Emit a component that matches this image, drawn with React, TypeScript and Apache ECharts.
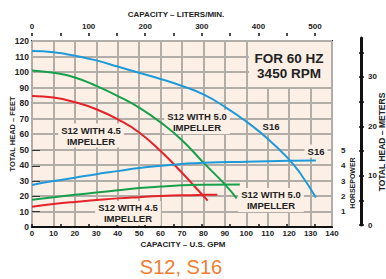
import React, { useEffect, useRef } from "react";
import * as echarts from "echarts";

// ---- data (US GPM vs total head in feet / horsepower) ----
const s16HeadGpm = [0, 10, 20, 30, 40, 50, 60, 70, 80, 90, 100, 110, 120, 125, 132.5];
const s16HeadFt = [113.5, 112.7, 110.5, 107.5, 103.5, 99.5, 95.5, 91, 85.5, 77.5, 68, 57, 43.5, 35, 19];

const s12_50HeadGpm = [0, 10, 20, 30, 40, 50, 60, 70, 80, 90, 95.5];
const s12_50HeadFt = [101, 99.5, 96.5, 91, 84.5, 77, 67.5, 56, 41.5, 27.5, 18.5];

const s12_45HeadGpm = [0, 10, 20, 30, 40, 50, 60, 70, 76, 82];
const s12_45HeadFt = [84.5, 83.5, 80.5, 76, 69.5, 61, 49, 35, 26, 17];

const s16HpGpm = [0, 10, 20, 30, 40, 50, 60, 70, 80, 100, 120, 132.5];
const s16Hp = [2.75, 3.0, 3.22, 3.45, 3.65, 3.85, 4.0, 4.12, 4.2, 4.27, 4.32, 4.34];

const s12_50HpGpm = [0, 10, 20, 30, 40, 50, 60, 70, 80, 97];
const s12_50Hp = [1.78, 1.95, 2.1, 2.25, 2.4, 2.54, 2.64, 2.72, 2.76, 2.78];

const s12_45HpGpm = [0, 10, 20, 30, 40, 50, 60, 70, 80, 86.5];
const s12_45Hp = [1.33, 1.5, 1.64, 1.76, 1.87, 1.95, 2.02, 2.07, 2.1, 2.11];

const literTicks = [0, 50, 100, 150, 200, 250, 300, 350, 400, 450, 500];
const literLabels = [0, 100, 200, 300, 400, 500];
const hpTicks = [1, 2, 3, 4, 5];
const meterTicks = [0, 5, 10, 15, 20, 25, 30, 35];
const meterLabels = [0, 10, 20, 30];

const GAL_TO_L = 3.78541;

const BLUE = "#1f9ad8";
const GREEN = "#17a04b";
const RED = "#e52228";
const PEACH = "#fcf0e6";
const GRIDC = "#b3ada8";
const INK = "#222";
const FONT = "'Liberation Sans', Arial, Helvetica, sans-serif";

const zip = (xs: number[], ys: number[]) => xs.map((x, i) => [x, ys[i]]);

function lineSeries(name: string, xs: number[], ys: number[], color: string, yAxisIndex: number) {
  return {
    name,
    type: "line",
    xAxisIndex: 0,
    yAxisIndex,
    data: zip(xs, ys),
    smooth: 0.5,
    showSymbol: false,
    symbol: "none",
    lineStyle: { color, width: 2 },
    z: 3,
  };
}

function label(text: string, x: number, y: number, size = 9.5, lh = 11, bg = true) {
  return {
    type: "text",
    x,
    y,
    z: 2,
    style: {
      text,
      font: `bold ${size}px ${FONT}`,
      fontSize: size,
      fontWeight: "bold",
      fontFamily: FONT,
      fill: INK,
      textAlign: "center",
      textVerticalAlign: "middle",
      align: "center",
      verticalAlign: "middle",
      lineHeight: lh,
      backgroundColor: bg ? PEACH : undefined,
      padding: bg ? [1, 3, 1, 3] : 0,
    },
  };
}

function vlabel(text: string, x: number, y: number, size: number) {
  return {
    type: "text",
    x,
    y,
    rotation: Math.PI / 2,
    z: 2,
    style: {
      text,
      font: `bold ${size}px ${FONT}`,
      fontSize: size,
      fontWeight: "bold",
      fontFamily: FONT,
      fill: INK,
      textAlign: "center",
      textVerticalAlign: "middle",
      align: "center",
      verticalAlign: "middle",
    },
  };
}

export default function App() {
  const ref = useRef<HTMLDivElement>(null);

  useEffect(() => {
    if (!ref.current) return;
    const chart = echarts.init(ref.current, null, { renderer: "svg" });
    const axisFont = { fontFamily: FONT, fontWeight: "bold", color: INK };

    chart.setOption({
      animation: false,
      backgroundColor: "#fff",
      grid: [
        {
          left: 32,
          right: 54,
          top: 41,
          bottom: 52,
          show: true,
          backgroundColor: PEACH,
          borderColor: "#333",
          borderWidth: 2,
        },
        { left: 361, right: 24, top: 38, bottom: 54 },
      ],
      xAxis: [
        {
          type: "value",
          gridIndex: 0,
          min: 0,
          max: 140,
          interval: 10,
          axisLine: { show: false },
          axisTick: { show: false },
          axisLabel: { ...axisFont, fontSize: 8, margin: 2 },
          splitLine: { show: true, lineStyle: { color: GRIDC, width: 2 } },
        },
        {
          type: "value",
          gridIndex: 0,
          position: "top",
          offset: 8,
          min: 0,
          max: 140 * GAL_TO_L,
          axisLine: { show: true, lineStyle: { color: "#111", width: 2 } },
          axisTick: { show: true, length: 3, customValues: literTicks, lineStyle: { color: "#111", width: 1.5 } },
          axisLabel: { ...axisFont, fontSize: 8, margin: 3, customValues: literLabels },
          splitLine: { show: false },
        },
        {
          type: "value",
          gridIndex: 0,
          position: "top",
          offset: 8,
          min: 0,
          max: 140 * GAL_TO_L,
          axisLine: { show: false },
          axisTick: { show: true, inside: true, length: 3, customValues: literTicks, lineStyle: { color: "#111", width: 1.5 } },
          axisLabel: { show: false },
          splitLine: { show: false },
        },
        { type: "value", gridIndex: 1, min: 0, max: 1, show: false },
      ],
      yAxis: [
        {
          type: "value",
          gridIndex: 0,
          min: 0,
          max: 120,
          interval: 10,
          axisLine: { show: false },
          axisTick: { show: false },
          axisLabel: { ...axisFont, fontSize: 8.5, margin: 3 },
          splitLine: { show: true, lineStyle: { color: GRIDC, width: 2 } },
        },
        {
          type: "value",
          gridIndex: 0,
          position: "right",
          min: 0,
          max: 12.15,
          axisLine: { show: false },
          axisTick: { show: true, length: 8, customValues: hpTicks, lineStyle: { color: "#333", width: 1 } },
          axisLabel: { ...axisFont, fontSize: 8, margin: 9, customValues: hpTicks },
          splitLine: { show: false },
        },
        {
          type: "value",
          gridIndex: 1,
          position: "right",
          min: 0,
          max: 37.9,
          axisLine: { show: true, lineStyle: { color: "#111", width: 3 } },
          axisTick: { show: true, length: 3, customValues: meterTicks, lineStyle: { color: "#111", width: 1.5 } },
          axisLabel: { ...axisFont, fontSize: 8, margin: 6, customValues: meterLabels },
          splitLine: { show: false },
        },
        {
          type: "value",
          gridIndex: 1,
          position: "right",
          min: 0,
          max: 37.9,
          axisLine: { show: false },
          axisTick: { show: true, inside: true, length: 3, customValues: meterTicks, lineStyle: { color: "#111", width: 1.5 } },
          axisLabel: { show: false },
          splitLine: { show: false },
        },
      ],
      series: [
        lineSeries("S16 head", s16HeadGpm, s16HeadFt, BLUE, 0),
        lineSeries("S12 5.0 head", s12_50HeadGpm, s12_50HeadFt, GREEN, 0),
        lineSeries("S12 4.5 head", s12_45HeadGpm, s12_45HeadFt, RED, 0),
        lineSeries("S16 hp", s16HpGpm, s16Hp, BLUE, 1),
        lineSeries("S12 5.0 hp", s12_50HpGpm, s12_50Hp, GREEN, 1),
        lineSeries("S12 4.5 hp", s12_45HpGpm, s12_45Hp, RED, 1),
      ],
      graphic: [
        { type: "rect", z: 1, shape: { x: 249, y: 42, width: 82, height: 45 }, style: { fill: PEACH } },
        label("FOR 60 HZ\n3450 RPM", 289, 66, 13.5, 14.5, false),
        label("S12 WITH 4.5\nIMPELLER", 91, 135.5),
        label("S12 WITH 5.0\nIMPELLER", 197, 122),
        label("S12 WITH 4.5\nIMPELLER", 128, 213),
        label("S12 WITH 5.0\nIMPELLER", 271, 200),
        label("S16", 271, 126.5),
        label("S16", 316, 151),
        label("CAPACITY – LITERS/MIN.", 176, 14, 8, 10, false),
        label("CAPACITY – U.S. GPM", 183, 244, 8, 10, false),
        vlabel("TOTAL HEAD – FEET", 12, 134, 7.5),
        vlabel("HORSEPOWER", 352, 183, 7),
        vlabel("TOTAL HEAD – METERS", 382, 142, 8.5),
        {
          type: "text",
          x: 181,
          y: 267,
          style: {
            text: "S12, S16",
            font: `20px ${FONT}`,
            fontSize: 20,
            fontFamily: FONT,
            fill: "#ef7d32",
            textAlign: "center",
            textVerticalAlign: "middle",
            align: "center",
            verticalAlign: "middle",
          },
        },
      ],
    });

    return () => chart.dispose();
  }, []);

  return (
    <div
      ref={ref}
      style={{ position: "fixed", left: 0, top: 0, width: 386, height: 279, background: "#fff" }}
    />
  );
}
